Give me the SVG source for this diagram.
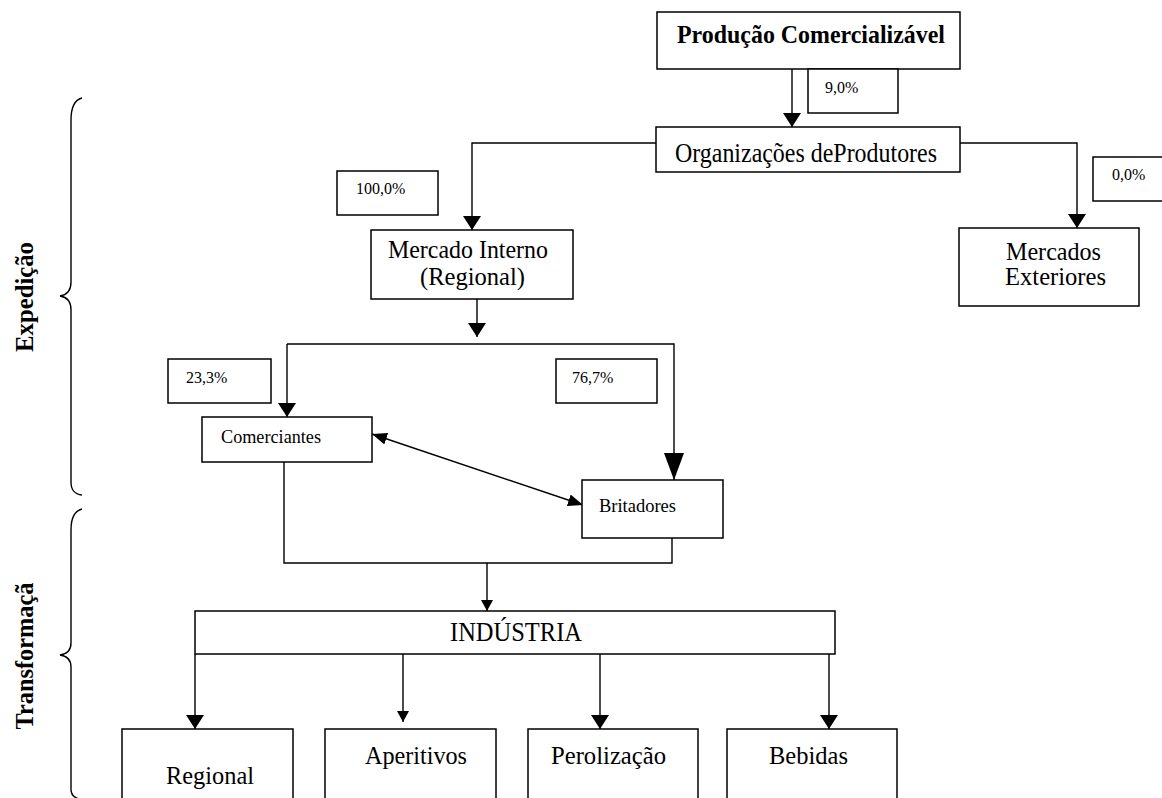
<svg xmlns="http://www.w3.org/2000/svg" width="1162" height="798" viewBox="0 0 1162 798">
<style>
.box{fill:#fff;stroke:#000;stroke-width:1.5}
.ln{fill:none;stroke:#000;stroke-width:1.4}
.t{font-family:"Liberation Serif","Times New Roman",serif;fill:#000}
.big{font-size:25px}
.tall{font-size:27px}
.mid{font-size:18px}
.pct{font-size:16px}
.b{font-weight:bold}
</style>
<defs>
<marker id="arr" markerUnits="userSpaceOnUse" viewBox="0 0 14 18" refX="14" refY="9" markerWidth="14" markerHeight="18" orient="auto"><path d="M0,0 L14,9 L0,18 z" fill="#000"/></marker>
<marker id="arrS" markerUnits="userSpaceOnUse" viewBox="0 0 11 12" refX="11" refY="6" markerWidth="11" markerHeight="12" orient="auto"><path d="M0,0 L11,6 L0,12 z" fill="#000"/></marker>
<marker id="arrB" markerUnits="userSpaceOnUse" viewBox="0 0 27 20" refX="27" refY="10" markerWidth="27" markerHeight="20" orient="auto"><path d="M0,0 L27,10 L0,20 z" fill="#000"/></marker>
<marker id="arrD" markerUnits="userSpaceOnUse" viewBox="0 0 15 12" refX="15" refY="6" markerWidth="15" markerHeight="12" orient="auto-start-reverse"><path d="M0,0 L15,6 L0,12 z" fill="#000"/></marker>
</defs>

<g id="braces">
<path class="ln" d="M82,98 C74,100 71,108 71,120 L71,282 C71,290 67,295 60,296 C67,297 71,302 71,310 L71,482 C71,490 74,494 82,495"/>
<path class="ln" d="M82,509 C74,511 71,519 71,530 L71,643 C71,651 67,654 60,655 C67,656 71,659 71,667 L71,790 C71,795 74,798 82,800"/>
<text class="t big b" transform="translate(33,297) rotate(-90)" text-anchor="middle" textLength="110" lengthAdjust="spacingAndGlyphs">Expedição</text>
<text class="t big b" transform="translate(33,656) rotate(-90)" text-anchor="middle" textLength="147" lengthAdjust="spacingAndGlyphs">Transformaçã</text>
</g>

<g id="connectors">
<line class="ln" x1="792" y1="69" x2="792" y2="127" marker-end="url(#arr)"/>
<polyline class="ln" points="656,143 472,143 472,230" marker-end="url(#arr)"/>
<polyline class="ln" points="960,143 1077,143 1077,228" marker-end="url(#arr)"/>
<line class="ln" x1="477" y1="299" x2="477" y2="337" marker-end="url(#arr)"/>
<polyline class="ln" points="287,344 674,344 674,480" marker-end="url(#arrB)"/>
<line class="ln" x1="287" y1="344" x2="287" y2="417" marker-end="url(#arr)"/>
<line class="ln" x1="372" y1="434" x2="583" y2="505" marker-start="url(#arrD)" marker-end="url(#arrD)"/>
<polyline class="ln" points="284,462 284,563 672,563 672,533"/>
<line class="ln" x1="487" y1="563" x2="487" y2="611" marker-end="url(#arrS)"/>
<line class="ln" x1="195" y1="654" x2="195" y2="729" marker-end="url(#arr)"/>
<line class="ln" x1="403" y1="654" x2="403" y2="722" marker-end="url(#arrS)"/>
<line class="ln" x1="600" y1="654" x2="600" y2="729" marker-end="url(#arr)"/>
<line class="ln" x1="829" y1="654" x2="829" y2="729" marker-end="url(#arr)"/>
</g>

<g id="producao">
<rect class="box" x="657" y="12" width="303" height="57"/>
<text class="t b" style="font-size:26px" x="677" y="43" textLength="268" lengthAdjust="spacingAndGlyphs">Produção Comercializável</text>
</g>
<g id="pct-9">
<rect class="box" x="808" y="69" width="90" height="44"/>
<text class="t pct" x="825" y="93">9,0%</text>
</g>
<g id="organizacoes">
<rect class="box" x="656" y="127" width="304" height="45"/>
<text class="t tall" x="675" y="162" textLength="262" lengthAdjust="spacingAndGlyphs">Organizações deProdutores</text>
</g>
<g id="pct-100">
<rect class="box" x="337" y="171" width="101" height="44"/>
<text class="t pct" x="356" y="194">100,0%</text>
</g>
<g id="mercado-interno">
<rect class="box" x="371" y="230" width="202" height="69"/>
<text class="t big" x="388" y="258" textLength="160" lengthAdjust="spacingAndGlyphs">Mercado Interno</text>
<text class="t big" x="420" y="285" textLength="105" lengthAdjust="spacingAndGlyphs">(Regional)</text>
</g>
<g id="pct-0">
<rect class="box" x="1093" y="157" width="80" height="44"/>
<text class="t pct" x="1112" y="180">0,0%</text>
</g>
<g id="mercados-exteriores">
<rect class="box" x="959" y="228" width="180" height="78"/>
<text class="t big" x="1006" y="260" textLength="95" lengthAdjust="spacingAndGlyphs">Mercados</text>
<text class="t big" x="1005" y="285" textLength="101" lengthAdjust="spacingAndGlyphs">Exteriores</text>
</g>
<g id="pct-23">
<rect class="box" x="168" y="359" width="103" height="44"/>
<text class="t pct" x="186" y="383">23,3%</text>
</g>
<g id="pct-76">
<rect class="box" x="556" y="359" width="101" height="44"/>
<text class="t pct" x="572" y="383">76,7%</text>
</g>
<g id="comerciantes">
<rect class="box" x="202" y="417" width="170" height="45"/>
<text class="t mid" x="221" y="443" textLength="100" lengthAdjust="spacingAndGlyphs">Comerciantes</text>
</g>
<g id="britadores">
<rect class="box" x="582" y="480" width="141" height="58"/>
<text class="t mid" x="599" y="512" textLength="77" lengthAdjust="spacingAndGlyphs">Britadores</text>
</g>
<g id="industria">
<rect class="box" x="195" y="611" width="640" height="43"/>
<text class="t tall" x="450" y="641" textLength="132" lengthAdjust="spacingAndGlyphs">INDÚSTRIA</text>
</g>
<g id="regional">
<rect class="box" x="122" y="729" width="171" height="80"/>
<text class="t big" x="166" y="784" textLength="88" lengthAdjust="spacingAndGlyphs">Regional</text>
</g>
<g id="aperitivos">
<rect class="box" x="325" y="729" width="171" height="80"/>
<text class="t big" x="365" y="764" textLength="102" lengthAdjust="spacingAndGlyphs">Aperitivos</text>
</g>
<g id="perolizacao">
<rect class="box" x="528" y="729" width="170" height="80"/>
<text class="t big" x="551" y="764" textLength="115" lengthAdjust="spacingAndGlyphs">Perolização</text>
</g>
<g id="bebidas">
<rect class="box" x="727" y="729" width="170" height="80"/>
<text class="t big" x="769" y="764" textLength="79" lengthAdjust="spacingAndGlyphs">Bebidas</text>
</g>
</svg>
